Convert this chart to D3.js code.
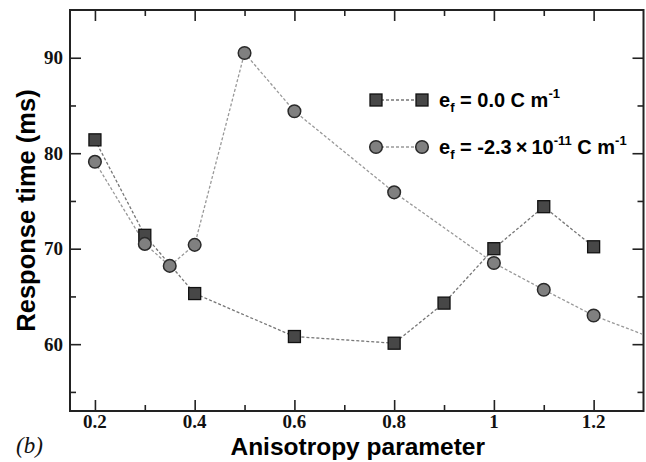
<!DOCTYPE html>
<html>
<head>
<meta charset="utf-8">
<script src="https://cdn.jsdelivr.net/npm/d3@7"></script>
<style>
  html, body { margin: 0; padding: 0; background: #fff; }
  svg { display: block; }
</style>
</head>
<body>
<svg id="chart" width="646" height="462"></svg>
<script>
// Response time vs. anisotropy parameter for two flexoelectric coefficients
const anisoZero = [0.2, 0.3, 0.4, 0.6, 0.8, 0.9, 1.0, 1.1, 1.2];
const timeZero  = [81.4, 71.4, 65.3, 60.8, 60.1, 64.3, 70.0, 74.4, 70.2];

const anisoNeg  = [0.2, 0.3, 0.35, 0.4, 0.5, 0.6, 0.8, 1.0, 1.1, 1.2, 1.4];
const timeNeg   = [79.1, 70.5, 68.2, 70.4, 90.5, 84.4, 75.9, 68.5, 65.7, 63.0, 59.0];

const xMajorTicks = [0.2, 0.4, 0.6, 0.8, 1.0, 1.2];
const xMinorTicks = [0.3, 0.5, 0.7, 0.9, 1.1];
const xTickLabels = ["0.2", "0.4", "0.6", "0.8", "1", "1.2"];
const yMajorTicks = [60, 70, 80, 90];
const yMinorTicks = [55, 65, 75, 85];
const yTickLabels = ["60", "70", "80", "90"];

const svg = d3.select("#chart");
const m = { left: 70, top: 10, right: 643.5, bottom: 411 };

const x = d3.scaleLinear().domain([0.15, 1.3]).range([m.left, m.right]);
const y = d3.scaleLinear().domain([53, 95]).range([m.bottom, m.top]);

const serif = "'Liberation Serif', 'Times New Roman', serif";
const sans = "'Liberation Sans', Arial, Helvetica, sans-serif";
const axisColor = "#222";

svg.append("defs").append("clipPath").attr("id", "plotClip")
  .append("rect")
  .attr("x", m.left).attr("y", m.top)
  .attr("width", m.right - m.left).attr("height", m.bottom - m.top);

// Axes with inward ticks on all four sides
function tickAxis(axisFn, scale, ticks, size, translate) {
  const g = svg.append("g").attr("transform", translate)
    .call(axisFn(scale).tickValues(ticks).tickSize(size).tickFormat(""));
  g.select(".domain").remove();
  g.selectAll(".tick line").attr("stroke", axisColor).attr("stroke-width", 1.6);
  return g;
}
const majorLen = 11, minorLen = 6;
tickAxis(d3.axisTop, x, xMajorTicks, majorLen, `translate(0,${m.bottom})`);
tickAxis(d3.axisTop, x, xMinorTicks, minorLen, `translate(0,${m.bottom})`);
tickAxis(d3.axisBottom, x, xMajorTicks, majorLen, `translate(0,${m.top})`);
tickAxis(d3.axisBottom, x, xMinorTicks, minorLen, `translate(0,${m.top})`);
tickAxis(d3.axisRight, y, yMajorTicks, majorLen, `translate(${m.left},0)`);
tickAxis(d3.axisRight, y, yMinorTicks, minorLen, `translate(${m.left},0)`);
tickAxis(d3.axisLeft, y, yMajorTicks, majorLen, `translate(${m.right},0)`);
tickAxis(d3.axisLeft, y, yMinorTicks, minorLen, `translate(${m.right},0)`);

// Frame
svg.append("rect")
  .attr("x", m.left).attr("y", m.top)
  .attr("width", m.right - m.left).attr("height", m.bottom - m.top)
  .attr("fill", "none").attr("stroke", axisColor).attr("stroke-width", 2);

// Tick labels
svg.append("g").selectAll("text").data(xMajorTicks).join("text")
  .attr("x", d => x(d)).attr("y", 428)
  .attr("text-anchor", "middle")
  .attr("font-family", serif).attr("font-weight", "bold").attr("font-size", 19)
  .attr("fill", "#111")
  .text((d, i) => xTickLabels[i]);

svg.append("g").selectAll("text").data(yMajorTicks).join("text")
  .attr("x", 63).attr("y", d => y(d)).attr("dy", "0.34em")
  .attr("text-anchor", "end")
  .attr("font-family", serif).attr("font-weight", "bold").attr("font-size", 19)
  .attr("fill", "#111")
  .text((d, i) => yTickLabels[i]);

// Axis titles
svg.append("text")
  .attr("x", (m.left + m.right) / 2 + 1).attr("y", 455)
  .attr("text-anchor", "middle")
  .attr("font-family", sans).attr("font-weight", "bold").attr("font-size", 24.5)
  .attr("fill", "#000")
  .text("Anisotropy parameter");

svg.append("text")
  .attr("transform", `translate(35,${(m.top + m.bottom) / 2}) rotate(-90)`)
  .attr("text-anchor", "middle")
  .attr("font-family", sans).attr("font-weight", "bold").attr("font-size", 25.5)
  .attr("fill", "#000")
  .text("Response time (ms)");

svg.append("text")
  .attr("x", 16).attr("y", 453)
  .attr("font-family", serif).attr("font-style", "italic").attr("font-size", 23)
  .attr("fill", "#111")
  .text("(b)");

// Series
const line = d3.line().x(d => x(d[0])).y(d => y(d[1]));
const zeroPts = anisoZero.map((a, i) => [a, timeZero[i]]);
const negPts = anisoNeg.map((a, i) => [a, timeNeg[i]]);

const plot = svg.append("g").attr("clip-path", "url(#plotClip)");

const squareSize = 12, circleR = 6.3;
const sqStyle = { fill: "#474747", stroke: "#111", sw: 1.3 };
const ciStyle = { fill: "#808080", stroke: "#2a2a2a", sw: 1.5 };

plot.append("path").datum(zeroPts).attr("d", line)
  .attr("fill", "none").attr("stroke", "#777").attr("stroke-width", 1.3)
  .attr("stroke-dasharray", "3,2");
plot.append("path").datum(negPts).attr("d", line)
  .attr("fill", "none").attr("stroke", "#999").attr("stroke-width", 1.3)
  .attr("stroke-dasharray", "3,2");

plot.append("g").selectAll("rect").data(zeroPts).join("rect")
  .attr("x", d => x(d[0]) - squareSize / 2).attr("y", d => y(d[1]) - squareSize / 2)
  .attr("width", squareSize).attr("height", squareSize)
  .attr("fill", sqStyle.fill).attr("stroke", sqStyle.stroke).attr("stroke-width", sqStyle.sw);

plot.append("g").selectAll("circle").data(negPts).join("circle")
  .attr("cx", d => x(d[0])).attr("cy", d => y(d[1])).attr("r", circleR)
  .attr("fill", ciStyle.fill).attr("stroke", ciStyle.stroke).attr("stroke-width", ciStyle.sw);

// Legend
const legend = svg.append("g");
const lx1 = 376, lx2 = 422, ly1 = 100, ly2 = 147, tx = 439;

legend.append("line").attr("x1", lx1).attr("x2", lx2).attr("y1", ly1).attr("y2", ly1)
  .attr("stroke", "#777").attr("stroke-width", 1.3).attr("stroke-dasharray", "3,2");
[lx1, lx2].forEach(cx => legend.append("rect")
  .attr("x", cx - squareSize / 2).attr("y", ly1 - squareSize / 2)
  .attr("width", squareSize).attr("height", squareSize)
  .attr("fill", sqStyle.fill).attr("stroke", sqStyle.stroke).attr("stroke-width", sqStyle.sw));

legend.append("line").attr("x1", lx1).attr("x2", lx2).attr("y1", ly2).attr("y2", ly2)
  .attr("stroke", "#999").attr("stroke-width", 1.3).attr("stroke-dasharray", "3,2");
[lx1, lx2].forEach(cx => legend.append("circle")
  .attr("cx", cx).attr("cy", ly2).attr("r", circleR)
  .attr("fill", ciStyle.fill).attr("stroke", ciStyle.stroke).attr("stroke-width", ciStyle.sw));

function legendText(yPos, parts) {
  const t = legend.append("text")
    .attr("x", tx).attr("y", yPos + 7)
    .attr("font-family", sans).attr("font-weight", "bold").attr("font-size", 20)
    .attr("fill", "#000");
  parts.forEach(p => {
    const s = t.append("tspan").text(p.text);
    if (p.shift) s.attr("dy", p.shift).attr("font-size", p.size);
  });
}
legendText(ly1, [
  { text: "e" }, { text: "f", shift: 5, size: 13 },
  { text: " = 0.0 C m", shift: -5, size: 20 },
  { text: "-1", shift: -9, size: 13 }
]);
legendText(ly2, [
  { text: "e" }, { text: "f", shift: 5, size: 13 },
  { text: " = -2.3\u2009\u00d7\u200910", shift: -5, size: 20 },
  { text: "-11", shift: -9, size: 13 },
  { text: " C m", shift: 9, size: 20 },
  { text: "-1", shift: -9, size: 13 }
]);
</script>
</body>
</html>
